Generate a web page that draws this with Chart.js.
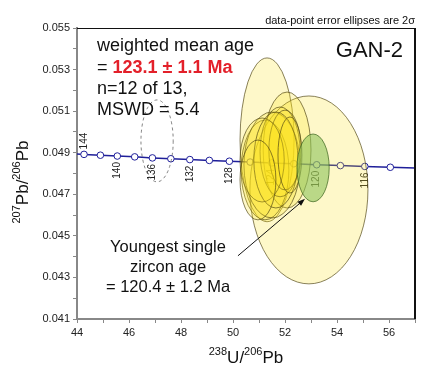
<!DOCTYPE html>
<html>
<head>
<meta charset="utf-8">
<script src="https://cdn.jsdelivr.net/npm/chart.js@4.4.0/dist/chart.umd.min.js"></script>
<style>
html, body { margin: 0; padding: 0; background: #fff; }
</style>
</head>
<body>
<canvas id="chart1" width="431" height="372"></canvas>
<script>
// concordia ages (Ma) and their positions
var ages = [144, 142, 140, 138, 136, 134, 132, 130, 128, 126, 124, 122, 120, 118, 116, 114];
var concX = [44.27, 44.90, 45.55, 46.22, 46.90, 47.61, 48.34, 49.09, 49.86, 50.66, 51.49, 52.34, 53.22, 54.13, 55.07, 56.05];
var concY = [0.04892, 0.04888, 0.04884, 0.04880, 0.04875, 0.04871, 0.04867, 0.04863, 0.04859, 0.04855, 0.04851, 0.04847, 0.04842, 0.04838, 0.04834, 0.04830];
var lineEndX = [44, 57];
var lineEndY = [0.04894, 0.04826];
var labelAges = [144, 140, 136, 132, 128, 124, 120, 116];

// spot analyses: 238U/206Pb, 207Pb/206Pb and 2 sigma errors
var spotX = [51.31, 52.92, 52.08, 51.23, 51.50, 51.81, 52.00, 51.12, 51.65, 50.96, 52.19];
var spotY = [0.04962, 0.04721, 0.04913, 0.04817, 0.04841, 0.04904, 0.04913, 0.04865, 0.04865, 0.04769, 0.04889];
var errX = [1.04, 2.27, 0.92, 0.92, 1.08, 0.77, 0.62, 0.85, 0.85, 0.69, 0.46];
var errY = [0.00394, 0.00452, 0.00279, 0.00240, 0.00255, 0.00216, 0.00192, 0.00202, 0.00231, 0.00192, 0.00183];

// youngest zircon
var youngX = [53.08];
var youngY = [0.04827];
var youngErrX = [0.62];
var youngErrY = [0.00163];

// rejected spot (dashed)
var rejX = [47.08];
var rejY = [0.04957];
var rejErrX = [0.62];
var rejErrY = [0.00197];

// arrow from note to youngest grain
var arrowX = [50.19, 52.77];
var arrowY = [0.04404, 0.04678];

var FONT = "'Liberation Sans', Arial, sans-serif";

var concPts = [{ x: lineEndX[0], y: lineEndY[0] }];
var radii = [0];
for (var i = 0; i < ages.length; i++) {
    concPts.push({ x: concX[i], y: concY[i] });
    radii.push(3.3);
}
concPts.push({ x: lineEndX[1], y: lineEndY[1] });
radii.push(0);

function ellipse(ctx, chart, x, y, ex, ey) {
    var sx = chart.scales.x, sy = chart.scales.y;
    var cx = sx.getPixelForValue(x), cy = sy.getPixelForValue(y);
    var rx = Math.abs(sx.getPixelForValue(x + ex) - cx);
    var ry = Math.abs(sy.getPixelForValue(y + ey) - cy);
    ctx.beginPath();
    ctx.ellipse(cx, cy, rx, ry, 0, 0, Math.PI * 2);
}

var ellipsePlugin = {
    id: 'ellipses',
    afterDatasetsDraw: function (chart) {
        var ctx = chart.ctx, a = chart.chartArea;
        var sx = chart.scales.x, sy = chart.scales.y;
        ctx.save();
        ctx.beginPath();
        ctx.rect(a.left, a.top, a.right - a.left, a.bottom - a.top);
        ctx.clip();

        // age labels along concordia
        ctx.fillStyle = '#222';
        ctx.font = '10px ' + FONT;
        ctx.textBaseline = 'middle';
        labelAges.forEach(function (age) {
            var k = ages.indexOf(age);
            var x = sx.getPixelForValue(concX[k]), y = sy.getPixelForValue(concY[k]);
            ctx.save();
            if (k === 0) {
                ctx.translate(x, y - 5);
                ctx.rotate(-Math.PI / 2);
                ctx.textAlign = 'left';
            } else {
                ctx.translate(x, y + 6);
                ctx.rotate(-Math.PI / 2);
                ctx.textAlign = 'right';
            }
            ctx.fillText(String(age), 0, 0);
            ctx.restore();
        });

        // yellow ellipses
        ctx.lineWidth = 0.8;
        for (var i = 0; i < spotX.length; i++) {
            ellipse(ctx, chart, spotX[i], spotY[i], errX[i], errY[i]);
            ctx.fillStyle = 'rgba(250, 226, 20, 0.23)';
            ctx.fill();
            ctx.strokeStyle = 'rgba(80, 70, 20, 0.85)';
            ctx.stroke();
        }

        // youngest grain
        ellipse(ctx, chart, youngX[0], youngY[0], youngErrX[0], youngErrY[0]);
        ctx.fillStyle = 'rgba(140, 195, 90, 0.6)';
        ctx.fill();
        ctx.strokeStyle = 'rgba(60, 100, 30, 0.9)';
        ctx.stroke();

        // rejected
        ellipse(ctx, chart, rejX[0], rejY[0], rejErrX[0], rejErrY[0]);
        ctx.setLineDash([3, 3]);
        ctx.strokeStyle = '#666';
        ctx.stroke();
        ctx.setLineDash([]);
        ctx.restore();
    },
    afterDraw: function (chart) {
        var ctx = chart.ctx, a = chart.chartArea;
        var sx = chart.scales.x, sy = chart.scales.y;
        ctx.save();

        // top and right frame
        ctx.strokeStyle = '#111';
        ctx.lineWidth = 1;
        ctx.beginPath();
        ctx.moveTo(a.left, a.top + 0.5);
        ctx.lineTo(a.right, a.top + 0.5);
        ctx.stroke();
        ctx.lineWidth = 2;
        ctx.beginPath();
        ctx.moveTo(a.right, a.top);
        ctx.lineTo(a.right, a.bottom);
        ctx.stroke();

        // arrow
        var x0 = sx.getPixelForValue(arrowX[0]), y0 = sy.getPixelForValue(arrowY[0]);
        var x1 = sx.getPixelForValue(arrowX[1]), y1 = sy.getPixelForValue(arrowY[1]);
        var ang = Math.atan2(y1 - y0, x1 - x0);
        ctx.strokeStyle = '#111';
        ctx.lineWidth = 1;
        ctx.beginPath();
        ctx.moveTo(x0, y0);
        ctx.lineTo(x1 - 5 * Math.cos(ang), y1 - 5 * Math.sin(ang));
        ctx.stroke();
        ctx.fillStyle = '#111';
        ctx.beginPath();
        ctx.moveTo(x1, y1);
        ctx.lineTo(x1 - 8 * Math.cos(ang - 0.35), y1 - 8 * Math.sin(ang - 0.35));
        ctx.lineTo(x1 - 8 * Math.cos(ang + 0.35), y1 - 8 * Math.sin(ang + 0.35));
        ctx.closePath();
        ctx.fill();

        // texts
        ctx.fillStyle = '#111';
        ctx.textBaseline = 'alphabetic';
        ctx.textAlign = 'right';
        ctx.font = '11px ' + FONT;
        ctx.fillText('data-point error ellipses are 2\u03C3', a.right, 24);

        ctx.font = '22px ' + FONT;
        ctx.fillText('GAN-2', a.right - 12, 57);

        ctx.textAlign = 'left';
        ctx.font = '18px ' + FONT;
        ctx.fillText('weighted mean age', a.left + 20, 51);
        ctx.fillText('= ', a.left + 20, 73);
        var w = ctx.measureText('= ').width;
        ctx.font = 'bold 18px ' + FONT;
        ctx.fillStyle = '#e3202a';
        ctx.fillText('123.1 \u00B1 1.1 Ma', a.left + 20 + w, 73);
        ctx.fillStyle = '#111';
        ctx.font = '18px ' + FONT;
        ctx.fillText('n=12 of 13,', a.left + 20, 94);
        ctx.fillText('MSWD = 5.4', a.left + 20, 115);

        ctx.textAlign = 'center';
        ctx.font = '16.5px ' + FONT;
        ctx.fillText('Youngest single', 168, 252);
        ctx.fillText('zircon age', 168, 272);
        ctx.fillText('= 120.4 \u00B1 1.2 Ma', 168, 292);

        // axis titles with superscripts
        function supTitle(parts, cx, cy) {
            var tw = 0;
            parts.forEach(function (p) {
                ctx.font = (p[1] ? '11px ' : '17px ') + FONT;
                tw += ctx.measureText(p[0]).width;
            });
            var x = cx - tw / 2;
            ctx.textAlign = 'left';
            parts.forEach(function (p) {
                ctx.font = (p[1] ? '11px ' : '17px ') + FONT;
                ctx.fillText(p[0], x, p[1] ? cy - 8 : cy);
                x += ctx.measureText(p[0]).width;
            });
        }
        ctx.fillStyle = '#111';
        supTitle([['238', 1], ['U/', 0], ['206', 1], ['Pb', 0]], (a.left + a.right) / 2, 363);
        ctx.save();
        ctx.translate(28, 182);
        ctx.rotate(-Math.PI / 2);
        supTitle([['207', 1], ['Pb/', 0], ['206', 1], ['Pb', 0]], 0, 0);
        ctx.restore();

        ctx.restore();
    }
};

var my_ctx = document.getElementById('chart1');
var myChart1 = new Chart(my_ctx, {
    type: 'scatter',
    data: {
        datasets: [{
            label: 'concordia',
            data: concPts,
            showLine: true,
            borderColor: '#1f1f9a',
            borderWidth: 1.5,
            pointRadius: radii,
            pointBackgroundColor: '#ffffff',
            pointBorderColor: '#1f1f9a',
            pointBorderWidth: 1
        }]
    },
    options: {
        responsive: false,
        animation: false,
        devicePixelRatio: 1,
        layout: { padding: { left: 0, top: 28, right: 16, bottom: 0 } },
        plugins: {
            legend: { display: false },
            tooltip: { enabled: false }
        },
        scales: {
            x: {
                type: 'linear',
                min: 44,
                max: 57,
                afterFit: function (s) { s.height = 53; },
                ticks: {
                    stepSize: 1,
                    autoSkip: false,
                    maxRotation: 0,
                    padding: 3,
                    color: '#222',
                    font: { family: FONT, size: 11 },
                    callback: function (v) { return v % 2 === 0 ? String(v) : ''; }
                },
                grid: { drawOnChartArea: false, drawTicks: true, tickLength: 4, color: '#888' },
                border: { color: '#888', width: 2 }
            },
            y: {
                type: 'linear',
                min: 0.041,
                max: 0.055,
                afterFit: function (s) { s.width = 77; },
                ticks: {
                    stepSize: 0.001,
                    autoSkip: false,
                    padding: 3,
                    color: '#222',
                    font: { family: FONT, size: 11 },
                    callback: function (v, idx) { return idx % 2 === 0 ? v.toFixed(3) : ''; }
                },
                grid: { drawOnChartArea: false, drawTicks: true, tickLength: 4, color: '#888' },
                border: { color: '#888', width: 2 }
            }
        }
    },
    plugins: [ellipsePlugin]
});
</script>
</body>
</html>
